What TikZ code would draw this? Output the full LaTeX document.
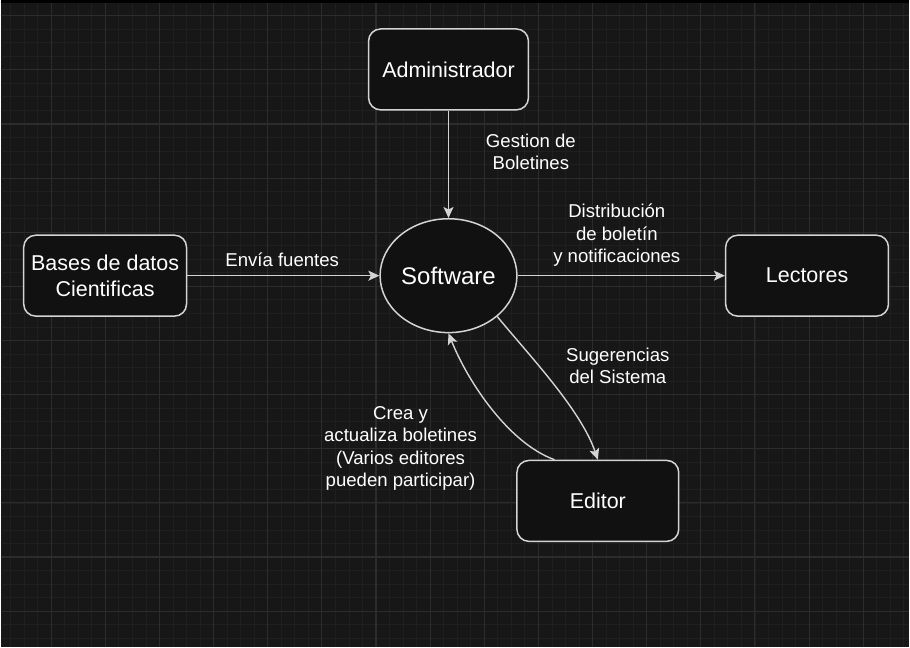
\documentclass[tikz,border=0pt]{standalone}
\usepackage{fontspec}
\setmainfont{Liberation Sans}
\usetikzlibrary{arrows.meta,shapes.geometric,calc}
\definecolor{bgc}{RGB}{23,23,23}
\definecolor{minorc}{RGB}{31,31,31}
\definecolor{majorc}{RGB}{44,44,44}
\definecolor{boxfill}{RGB}{17,17,17}
\definecolor{strokec}{RGB}{212,212,212}
\begin{document}
\begin{tikzpicture}[x=1pt,y=-1pt,
  box/.style={draw=strokec, line width=1.5pt, fill=boxfill, rounded corners=12pt,
    minimum width=162pt, minimum height=81pt, align=center, text=white, inner sep=0pt,
    font=\fontsize{21.5}{26}\selectfont},
  soft/.style={ellipse, draw=strokec, line width=1.5pt, fill=boxfill,
    minimum width=137pt, minimum height=114pt, inner sep=0pt, text=white,
    font=\fontsize{24}{28}\selectfont},
  lbl/.style={text=white, align=center, inner sep=0pt, font=\fontsize{18.6}{22.4}\selectfont},
  edge/.style={draw=strokec, line width=1.4pt, -{Stealth[length=11pt,width=10pt,inset=2.5pt]}}]
  % background
  \fill[bgc] (0,0) rectangle (910,648);
  \foreach \x in {10.05,23.6,...,910} \draw[minorc, line width=0.8pt] (\x,3) -- (\x,648);
  \foreach \y in {2.15,15.7,...,648} \draw[minorc, line width=0.8pt] (0,\y) -- (910,\y);
  \foreach \x in {50.7,104.9,...,910} \draw[majorc, line width=1.1pt] (\x,3) -- (\x,648);
  \foreach \y in {15.7,69.9,...,648} \draw[majorc, line width=1.1pt] (0,\y) -- (910,\y);
  \fill[black] (0,0) rectangle (910,3);
  \useasboundingbox (0,0) rectangle (910,648);

  % nodes
  \node[box, minimum width=160pt] (admin) at (448.5,69.5) {Administrador};
  \node[soft] (sw) at (448.5,276) {Software};
  \node[box, minimum width=163pt] (bases) at (104.7,276) {Bases de datos\\Cientificas};
  \node[box, minimum width=163pt] (lect) at (807.5,276) {Lectores};
  \node[box] (editor) at (598,501.5) {Editor};

  % edges
  \draw[edge] (admin) -- (sw);
  \draw[edge] (bases) -- (sw);
  \draw[edge] (sw) -- (lect);
  \draw[edge] (sw.-40) .. controls +(33,40) and +(-17,-50) .. (editor.north);
  \coordinate (estart) at ($(editor.north)!0.53!(editor.north west)$);
  \draw[edge] (estart) .. controls +(-45,-16) and +(20,50) .. (sw.south);

  % labels
  \node[lbl] (lgest) at (531,152) {Gestion de\\Boletines};
  \node[lbl] (lenv) at (282,260) {Envía fuentes};
  \node[lbl] (ldist) at (617,235.5) {Distribución\\de boletín\\y notificaciones};
  \node[lbl] (lsug) at (618,366) {Sugerencias\\del Sistema};
  \node[lbl] (lcrea) at (400.5,449) {Crea y\\actualiza boletines\\(Varios editores\\pueden participar)};
\end{tikzpicture}
\end{document}
